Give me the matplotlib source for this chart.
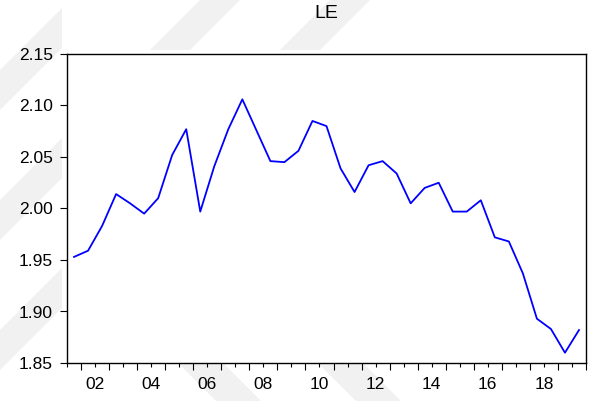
import matplotlib
matplotlib.use('Agg')
import matplotlib.pyplot as plt
import matplotlib.ticker as mtick
from matplotlib.patches import Polygon
import numpy as np

# semi-annual observations, 2001S2 .. 2019S2
start_year = 2001.5
le_values = [1.953, 1.959, 1.983, 2.014, 2.005, 1.995, 2.010, 2.052, 2.077, 1.997,
             2.041, 2.077, 2.106, 2.076, 2.046, 2.045, 2.056, 2.085, 2.080, 2.039,
             2.016, 2.042, 2.046, 2.034, 2.005, 2.020, 2.025, 1.997, 1.997, 2.008,
             1.972, 1.968, 1.937, 1.893, 1.883, 1.860, 1.882]
y_ticks = [1.85, 1.90, 1.95, 2.00, 2.05, 2.10, 2.15]
x_label_years = [2002, 2004, 2006, 2008, 2010, 2012, 2014, 2016, 2018]

x = start_year + 0.25 + 0.5 * np.arange(len(le_values))

plt.rcParams['font.family'] = ['Liberation Sans', 'DejaVu Sans']

fig = plt.figure(figsize=(5.96, 4.01), dpi=100)

# faint watermark stripes behind the chart (pixel coords)
bg = fig.add_axes([0, 0, 1, 1], zorder=0)
bg.set_xlim(0, 596)
bg.set_ylim(401, 0)
bg.axis('off')
wm = '#f1f1f1'
# "/" bands in the left margin
for c in [70, 200, 330]:
    bg.add_patch(Polygon([(0, c), (0, c + 40), (62, c + 40 - 62), (62, c - 62)],
                         closed=True, color=wm, lw=0))
# "/" bands along the top
for c in [200, 330]:
    bg.add_patch(Polygon([(c - 50, 50), (c - 10, 50), (c + 40, 0), (c + 0, 0)],
                         closed=True, color=wm, lw=0))
# "\" bands along the bottom
for c in [-185, -45]:
    bg.add_patch(Polygon([(363 + c, 363), (363 + c + 45, 363), (401 + c + 45, 401), (401 + c, 401)],
                         closed=True, color=wm, lw=0))

ax = fig.add_axes([67 / 596, 1 - 363 / 401, (586 - 67) / 596, (363 - 54) / 401], zorder=1)
ax.set_facecolor('white')
ax.plot(x, le_values, color='#0000ff', lw=1.3)

ax.set_xlim(2001.5, 2020.0)
ax.set_ylim(1.85, 2.15)

ax.set_yticks(y_ticks)
ax.yaxis.set_major_formatter(mtick.FormatStrFormatter('%.2f'))
ax.tick_params(axis='y', direction='out', length=5, width=0.8, pad=5,
               labelsize=12.5, right=False)

# long ticks at year boundaries, short ticks at mid-year carry the labels
ax.xaxis.set_major_locator(mtick.FixedLocator(np.arange(2002, 2021, 1)))
ax.xaxis.set_major_formatter(mtick.NullFormatter())
ax.xaxis.set_minor_locator(mtick.FixedLocator(np.arange(2001.5, 2020, 1)))
ax.xaxis.set_minor_formatter(mtick.FuncFormatter(
    lambda v, p: '%02d' % (int(v) % 100) if int(v) in x_label_years else ''))
ax.tick_params(axis='x', which='major', direction='out', length=5, width=0.8, top=False)
ax.tick_params(axis='x', which='minor', direction='out', length=3, width=0.8, pad=7,
               labelsize=12.5, top=False)

for s in ax.spines.values():
    s.set_linewidth(1.0)
    s.set_color('black')

fig.text(326.5 / 596, 1 - 14 / 401, 'LE', ha='center', va='center', fontsize=14)

fig.savefig('out.png', dpi=100)
